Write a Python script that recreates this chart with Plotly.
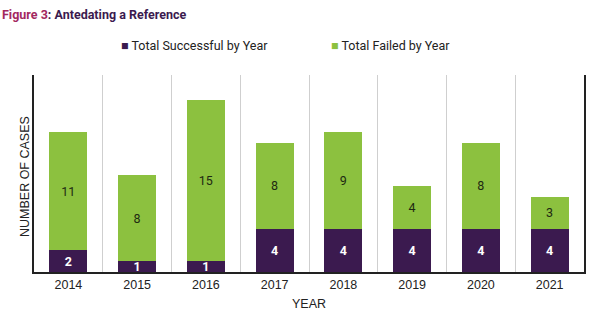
import plotly.graph_objects as go

years = ["2014", "2015", "2016", "2017", "2018", "2019", "2020", "2021"]
successful = [2, 1, 1, 4, 4, 4, 4, 4]
failed = [11, 8, 15, 8, 9, 4, 8, 3]

PURPLE = "#3b1a4f"
GREEN = "#8cc13f"
FONT = "Roboto, Liberation Sans, Arial, sans-serif"
TICKFONT = "Liberation Sans, Arial, sans-serif"

fig = go.Figure()
fig.add_trace(go.Bar(
    x=years, y=successful, name="Total Successful by Year",
    marker=dict(color=PURPLE, line=dict(width=0)),
    text=[f"<b>{v}</b>" for v in successful], textposition="inside", insidetextanchor="middle",
    textangle=0,
    textfont=dict(color="white", size=12.5, family=FONT),
    constraintext="none", cliponaxis=False,
))
fig.add_trace(go.Bar(
    x=years, y=failed, name="Total Failed by Year",
    marker=dict(color=GREEN, line=dict(width=0)),
    text=failed, textposition="inside", insidetextanchor="middle",
    textangle=0,
    textfont=dict(color="#1e2a12", size=12.5, family=FONT),
    constraintext="none",
))

fig.update_layout(
    barmode="stack", bargap=0.45,
    width=602, height=327,
    margin=dict(l=34, r=18, t=75, b=55),
    plot_bgcolor="white", paper_bgcolor="white",
    showlegend=False,
    font=dict(family=FONT, color="#222"),
    uniformtext=dict(minsize=12.5, mode="show"),
    xaxis=dict(
        type="category", tickson="boundaries",
        showgrid=True, gridcolor="#cfcfcf", gridwidth=1,
        showline=True, linecolor="#222", linewidth=1.5,
        ticks="", tickfont=dict(size=12.5, color="#222", family=TICKFONT),
        title=dict(text="YEAR", font=dict(size=12.5, color="#222", family=TICKFONT), standoff=8),
    ),
    yaxis=dict(
        range=[0, 18.3], showgrid=False, zeroline=False,
        showticklabels=False, ticks="",
        showline=True, mirror=True, linecolor="#222", linewidth=1.5,
    ),
    annotations=[
        dict(text="<b><span style='color:#a3285f'>Figure 3</span>: Antedating a Reference</b>",
             xref="paper", yref="paper", x=-34/550, y=1 + 60/197, xanchor="left", yanchor="middle",
             showarrow=False, font=dict(size=12.5, color="#3b1a4f", family=FONT)),
        dict(text=f"<span style='color:{PURPLE}'>■</span> Total Successful by Year",
             xref="paper", yref="paper", x=(119 - 34) / 550, y=1 + 29/197, xanchor="left", yanchor="middle",
             showarrow=False, font=dict(size=12.5, color="#222", family=FONT)),
        dict(text=f"<span style='color:{GREEN}'>■</span> Total Failed by Year",
             xref="paper", yref="paper", x=(329 - 34) / 550, y=1 + 29/197, xanchor="left", yanchor="middle",
             showarrow=False, font=dict(size=12.5, color="#222", family=FONT)),
        dict(text="NUMBER OF CASES", textangle=-90,
             xref="paper", yref="paper", x=(25 - 34) / 550, y=(272 - 177) / 197, xanchor="center", yanchor="middle",
             showarrow=False, font=dict(size=12.5, color="#222", family=TICKFONT)),
    ],
)

fig.write_html("out.html")
